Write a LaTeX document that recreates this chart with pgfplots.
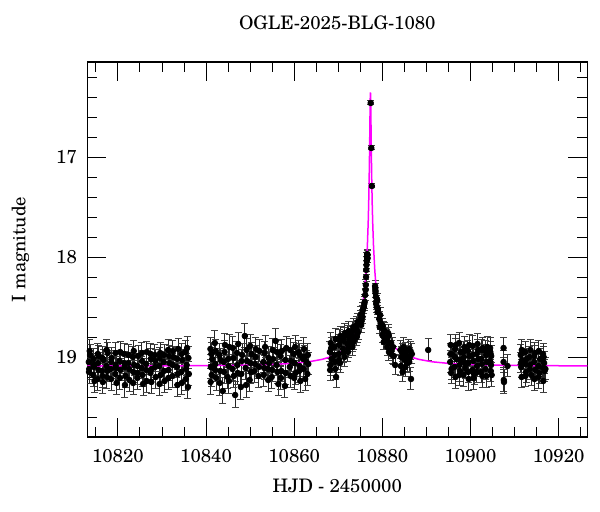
\documentclass[border=0pt]{standalone}
\usepackage{fontspec}
\setmainfont{TeX Gyre Schola}
\usepackage{pgfplots}
\pgfplotsset{compat=1.18}
\definecolor{modelmag}{RGB}{255,0,255}

\begin{document}
\fontsize{9.3}{11}\selectfont
\begin{tikzpicture}
\path[use as bounding box] (-43.65pt,-37.5pt) rectangle (256.35pt,218.5pt);
\begin{axis}[
    at={(0,0)}, anchor=south west,
    width=250pt, height=187.5pt, scale only axis,
    xmin=10813.06, xmax=10926.5,
    ymin=16.05, ymax=19.8, y dir=reverse,
    scaled x ticks=false, scaled y ticks=false,
    xtick={10820,10840,10860,10880,10900,10920},
    xticklabels={10820,10840,10860,10880,10900,10920},
    minor xtick={10815,10820,...,10925},
    ytick={17,18,19}, yticklabels={17,18,19},
    minor ytick={16.2,16.4,16.6,16.8,17.2,17.4,17.6,17.8,18.2,18.4,18.6,18.8,19.2,19.4,19.6},
    tick align=inside,
    major tick length=9.5pt, minor tick length=5pt,
    every tick/.style={black, line width=0.45pt},
    axis line style={line width=0.6pt},
    tick label style={font=\fontsize{9.3}{11}\selectfont},
    xticklabel style={yshift=-2.9pt},
    yticklabel style={xshift=-1.9pt},
    title={OGLE-2025-BLG-1080},
    title style={at={(axis description cs:0.5,1.072)}, anchor=center, font=\fontsize{9.3}{11}\selectfont},
    xlabel={HJD - 2450000},
    xlabel style={at={(axis description cs:0.5,-0.1307)}, anchor=center, font=\fontsize{9.3}{11}\selectfont},
    ylabel={I magnitude},
    ylabel style={at={(axis description cs:-0.134,0.5)}, anchor=center, font=\fontsize{9.3}{11}\selectfont},
]
% OGLE photometry
\addplot+[only marks, mark=*, mark size=1.4pt, mark options={draw=black, fill=black},
    error bars/.cd, y dir=both, y explicit,
    error bar style={line width=0.5pt, black!85},
    error mark options={rotate=90, mark size=1.75pt, line width=0.5pt, black!75}]
table[x=t, y=m, y error=e] {
t m e
10813.4 19.05 0.10
10813.5 19.12 0.11
10813.7 18.98 0.10
10814.4 19.18 0.12
10814.5 19.02 0.10
10814.6 19.10 0.11
10815.4 19.22 0.12
10815.5 19.06 0.10
10815.7 18.99 0.10
10816.4 19.14 0.11
10816.6 19.25 0.12
10816.7 19.03 0.10
10817.4 19.09 0.11
10817.5 19.20 0.12
10817.7 18.96 0.10
10818.4 19.12 0.11
10818.6 19.01 0.10
10819.4 19.17 0.11
10819.5 19.08 0.11
10819.7 19.26 0.12
10820.4 19.04 0.10
10820.6 19.13 0.11
10821.4 18.97 0.10
10821.5 19.10 0.11
10821.7 19.19 0.12
10822.4 19.06 0.10
10822.6 19.23 0.12
10823.4 19.00 0.10
10823.5 19.15 0.11
10823.7 19.08 0.11
10824.4 19.21 0.12
10824.6 18.99 0.10
10825.4 19.11 0.11
10825.5 19.04 0.10
10825.7 19.27 0.12
10826.4 19.07 0.11
10826.6 18.95 0.10
10827.4 19.16 0.11
10827.5 19.02 0.10
10827.7 19.12 0.11
10828.4 18.98 0.10
10828.6 19.20 0.12
10829.4 19.09 0.11
10829.5 19.01 0.10
10829.7 19.18 0.11
10830.4 19.05 0.10
10830.6 19.24 0.12
10831.4 18.93 0.10
10831.5 19.13 0.11
10831.7 19.06 0.10
10832.4 19.19 0.12
10832.6 19.00 0.10
10833.4 19.10 0.11
10833.5 19.28 0.12
10833.7 18.92 0.10
10834.4 19.15 0.11
10834.6 19.03 0.10
10835.3 18.95 0.11
10835.4 19.22 0.12
10835.6 19.08 0.11
10835.9 19.30 0.12
10836.0 19.01 0.11
10813.45 19.15 0.12
10813.6 18.94 0.11
10814.45 19.08 0.11
10814.7 19.24 0.12
10815.45 18.97 0.10
10815.6 19.13 0.11
10816.45 19.01 0.11
10816.5 19.19 0.12
10817.45 18.93 0.10
10817.6 19.14 0.11
10818.45 19.22 0.12
10818.5 19.05 0.11
10819.45 18.96 0.10
10819.6 19.11 0.11
10820.45 19.21 0.12
10820.5 18.95 0.10
10821.45 19.06 0.11
10821.6 19.28 0.13
10822.45 18.98 0.10
10822.5 19.12 0.11
10823.45 19.26 0.12
10823.6 18.94 0.10
10824.45 19.09 0.11
10824.5 19.16 0.12
10825.45 18.96 0.10
10825.6 19.18 0.12
10826.45 19.13 0.11
10826.5 19.24 0.12
10827.45 18.97 0.10
10827.6 19.25 0.12
10828.45 19.10 0.11
10828.5 19.04 0.11
10829.45 19.27 0.12
10829.6 18.96 0.10
10830.45 19.14 0.11
10830.5 18.98 0.10
10831.45 19.21 0.12
10831.6 18.99 0.10
10832.45 19.08 0.11
10832.5 18.94 0.10
10833.45 19.02 0.11
10833.6 19.17 0.11
10834.45 18.97 0.10
10834.5 19.26 0.12
10835.45 19.12 0.11
10835.7 18.91 0.11
10836.1 19.17 0.12
10841.0 18.92 0.11
10841.1 19.10 0.12
10841.3 19.18 0.12
10841.4 19.02 0.11
10842.0 18.86 0.12
10842.1 19.07 0.11
10842.3 19.21 0.13
10843.0 18.98 0.11
10843.2 19.14 0.12
10843.8 19.34 0.13
10844.0 19.05 0.11
10844.2 18.95 0.11
10844.9 19.20 0.12
10845.1 19.09 0.11
10845.3 18.90 0.12
10846.0 19.12 0.12
10846.2 19.01 0.11
10846.6 19.38 0.13
10847.0 18.96 0.11
10847.2 19.16 0.12
10847.9 19.30 0.13
10848.1 19.04 0.11
10848.8 18.79 0.12
10849.0 19.11 0.12
10849.2 18.93 0.11
10849.9 19.23 0.12
10850.1 19.06 0.11
10850.3 18.97 0.11
10851.0 19.14 0.12
10851.2 19.00 0.11
10851.9 19.19 0.12
10852.1 18.94 0.11
10841.05 19.25 0.13
10841.2 18.97 0.11
10842.05 19.13 0.12
10842.2 18.94 0.11
10843.1 19.26 0.13
10843.3 19.03 0.11
10844.1 19.15 0.12
10844.3 18.88 0.11
10845.0 19.02 0.11
10845.2 19.24 0.13
10846.1 18.91 0.11
10846.3 19.19 0.12
10847.1 19.08 0.12
10847.3 18.87 0.11
10848.0 19.17 0.12
10848.2 18.98 0.11
10849.1 19.28 0.13
10849.3 19.04 0.11
10850.0 18.89 0.11
10850.2 19.15 0.12
10851.1 19.07 0.11
10851.3 18.92 0.11
10852.0 19.10 0.12
10853.0 19.05 0.11
10853.1 19.18 0.12
10853.3 18.96 0.11
10854.0 19.12 0.11
10854.2 19.01 0.11
10854.9 19.20 0.12
10855.1 18.93 0.11
10855.8 18.84 0.12
10856.0 19.08 0.11
10856.4 19.27 0.12
10856.9 18.99 0.11
10857.1 19.14 0.11
10857.9 19.29 0.12
10858.0 19.03 0.11
10858.2 18.91 0.11
10859.0 19.10 0.11
10859.2 19.19 0.12
10859.9 18.97 0.11
10860.1 19.06 0.11
10860.3 19.16 0.12
10861.0 18.95 0.11
10861.2 19.09 0.11
10861.4 19.24 0.12
10862.0 19.02 0.11
10862.2 18.92 0.11
10862.5 19.22 0.12
10862.8 19.05 0.11
10863.1 18.98 0.11
10853.2 19.11 0.12
10853.4 18.90 0.11
10854.1 19.23 0.12
10854.3 19.06 0.11
10855.0 19.13 0.12
10855.2 19.02 0.11
10856.1 18.95 0.11
10856.2 19.15 0.12
10857.0 19.21 0.12
10857.2 18.94 0.11
10858.1 19.16 0.12
10859.1 18.93 0.11
10859.3 19.04 0.11
10860.0 19.21 0.12
10860.2 18.90 0.11
10861.1 19.14 0.12
10861.3 18.98 0.11
10862.1 19.12 0.12
10862.3 19.00 0.11
10863.0 19.17 0.12
10863.2 19.07 0.11
10868.1 18.95 0.10
10868.2 19.08 0.11
10868.3 18.86 0.10
10868.5 19.02 0.10
10869.1 18.90 0.10
10869.2 19.05 0.11
10869.4 18.82 0.10
10869.5 19.20 0.11
10870.1 18.97 0.10
10870.2 18.88 0.10
10870.4 19.06 0.10
10870.5 18.79 0.09
10871.1 18.92 0.10
10871.2 18.84 0.09
10871.4 19.00 0.10
10871.5 18.76 0.09
10872.1 18.87 0.09
10872.2 18.95 0.10
10872.4 18.74 0.09
10872.5 18.83 0.09
10873.1 18.79 0.09
10873.2 18.90 0.09
10873.4 18.70 0.08
10873.5 18.84 0.09
10874.1 18.72 0.08
10874.2 18.80 0.09
10874.4 18.65 0.08
10874.5 18.75 0.08
10875.1 18.62 0.08
10875.2 18.68 0.08
10875.4 18.56 0.07
10875.5 18.60 0.07
10875.8 18.50 0.07
10876.0 18.45 0.07
10876.1 18.38 0.06
10868.15 19.13 0.11
10868.4 18.91 0.10
10869.15 18.98 0.10
10869.3 19.12 0.11
10870.15 19.03 0.10
10870.3 18.83 0.10
10871.15 18.96 0.10
10871.3 18.80 0.09
10872.15 18.78 0.09
10872.3 18.91 0.10
10873.15 18.74 0.09
10873.3 18.86 0.09
10874.15 18.68 0.08
10874.3 18.77 0.09
10875.15 18.58 0.08
10875.3 18.64 0.08
10875.6 18.53 0.07
10875.9 18.47 0.07
10876.2 18.33 0.06
10876.25 18.28 0.05
10876.30 18.20 0.05
10876.35 18.13 0.05
10876.40 18.08 0.04
10876.45 18.04 0.04
10876.50 18.00 0.04
10876.55 17.97 0.04
10876.60 18.02 0.04
10876.65 17.98 0.04
10877.36 16.46 0.02
10877.49 16.91 0.02
10877.62 17.29 0.02
10878.35 18.29 0.05
10878.45 18.36 0.05
10878.55 18.40 0.05
10878.65 18.45 0.06
10878.75 18.50 0.06
10878.85 18.43 0.06
10879.0 18.52 0.06
10879.3 18.62 0.07
10879.4 18.70 0.07
10879.6 18.66 0.07
10880.0 18.78 0.08
10880.1 18.69 0.07
10880.3 18.85 0.08
10880.5 18.74 0.08
10881.0 18.81 0.08
10881.1 18.90 0.09
10881.3 18.76 0.08
10881.5 18.95 0.09
10882.0 18.86 0.09
10882.2 18.98 0.09
10882.6 18.99 0.09
10882.9 19.08 0.10
10884.1 18.93 0.09
10884.3 19.00 0.10
10884.6 19.15 0.10
10884.8 18.90 0.09
10885.1 19.03 0.10
10885.3 18.95 0.09
10885.6 19.06 0.10
10886.0 18.92 0.09
10886.2 19.01 0.10
10886.5 19.22 0.11
10886.7 18.97 0.10
10878.4 18.32 0.05
10878.6 18.47 0.06
10878.9 18.55 0.06
10879.5 18.58 0.07
10880.2 18.73 0.08
10880.4 18.80 0.08
10881.2 18.84 0.08
10881.4 18.79 0.08
10882.1 18.93 0.09
10882.4 18.90 0.09
10884.2 19.09 0.10
10884.5 18.96 0.09
10885.2 19.10 0.10
10885.5 18.99 0.10
10886.1 19.05 0.10
10886.4 18.94 0.09
10890.4 18.93 0.11
10895.4 19.05 0.11
10895.5 18.88 0.10
10895.6 19.16 0.11
10895.8 18.97 0.10
10896.4 19.10 0.11
10896.5 18.92 0.10
10896.6 19.20 0.12
10896.8 19.02 0.10
10897.4 18.86 0.10
10897.5 19.08 0.11
10897.6 19.14 0.11
10897.8 18.95 0.10
10898.4 19.18 0.12
10898.5 19.00 0.10
10898.6 18.90 0.10
10898.8 19.11 0.11
10899.4 18.94 0.10
10899.5 19.06 0.11
10899.6 19.22 0.12
10899.8 18.99 0.10
10900.4 19.13 0.11
10900.5 18.89 0.10
10900.6 19.04 0.11
10900.8 19.17 0.11
10901.4 18.97 0.10
10901.5 19.09 0.11
10901.6 18.87 0.10
10901.8 19.02 0.11
10902.4 19.15 0.11
10902.5 18.93 0.10
10902.6 19.07 0.11
10902.8 18.91 0.10
10903.4 19.12 0.11
10903.5 18.98 0.10
10903.6 19.19 0.12
10903.8 18.90 0.10
10904.4 19.04 0.11
10904.5 18.95 0.10
10904.6 19.14 0.11
10904.7 18.99 0.10
10895.45 18.97 0.10
10895.7 19.12 0.11
10896.45 19.00 0.10
10896.7 18.88 0.10
10897.45 19.18 0.11
10897.7 19.03 0.10
10898.45 18.95 0.10
10898.7 19.06 0.11
10899.45 19.15 0.11
10899.7 18.88 0.10
10900.45 18.98 0.10
10900.7 19.21 0.12
10901.45 19.15 0.11
10901.7 18.93 0.10
10902.45 19.02 0.10
10902.7 19.19 0.12
10903.45 18.94 0.10
10903.7 19.05 0.11
10904.45 18.91 0.10
10904.65 19.08 0.11
10904.8 19.18 0.12
10907.5 18.91 0.10
10907.5 19.05 0.11
10907.55 19.23 0.12
10907.6 19.25 0.12
10908.4 19.09 0.11
10911.4 18.98 0.10
10911.5 19.10 0.11
10911.6 19.20 0.11
10911.7 19.03 0.10
10912.4 18.95 0.10
10912.5 19.07 0.11
10912.6 19.15 0.11
10913.4 19.00 0.10
10913.5 19.12 0.11
10913.6 18.93 0.10
10913.8 19.18 0.11
10914.4 19.05 0.10
10914.5 19.22 0.12
10914.6 18.96 0.10
10915.4 19.09 0.11
10915.5 18.94 0.10
10915.6 19.16 0.11
10915.8 19.02 0.10
10916.4 19.11 0.11
10916.5 19.24 0.12
10916.6 19.00 0.10
10916.8 19.14 0.11
10911.45 19.06 0.10
10911.65 18.93 0.10
10912.45 19.19 0.11
10912.7 19.02 0.10
10913.45 19.08 0.11
10914.45 18.99 0.10
10914.7 19.13 0.11
10915.45 19.20 0.12
10916.45 18.97 0.10
10916.7 19.06 0.11
10917.0 19.12 0.11
};
% model light curve
\addplot[modelmag, line width=0.75pt, no marks] coordinates {
(10812.30,19.090) (10827.30,19.089) (10837.30,19.087) (10847.30,19.083)
(10854.30,19.076) (10859.30,19.065) (10863.30,19.048) (10866.30,19.024)
(10868.30,18.998) (10870.30,18.956) (10871.80,18.905) (10872.80,18.853)
(10873.80,18.775) (10874.50,18.693) (10875.10,18.589) (10875.60,18.461)
(10876.00,18.310) (10876.30,18.144) (10876.60,17.894) (10876.80,17.640)
(10876.90,17.465) (10877.00,17.241) (10877.10,16.948) (10877.15,16.772)
(10877.20,16.585) (10877.25,16.422) (10877.275,16.372) (10877.30,16.354)
(10877.325,16.372) (10877.35,16.422) (10877.40,16.585) (10877.45,16.772)
(10877.50,16.948) (10877.60,17.241) (10877.70,17.465) (10877.80,17.640)
(10878.00,17.894) (10878.30,18.144) (10878.60,18.310) (10879.00,18.461)
(10879.50,18.589) (10880.10,18.693) (10880.80,18.775) (10881.80,18.853)
(10882.80,18.905) (10884.30,18.956) (10886.30,18.998) (10888.30,19.024)
(10891.30,19.048) (10895.30,19.065) (10900.30,19.076) (10907.30,19.083)
(10917.30,19.087) (10927.30,19.089)
};
\end{axis}
\end{tikzpicture}
\end{document}
